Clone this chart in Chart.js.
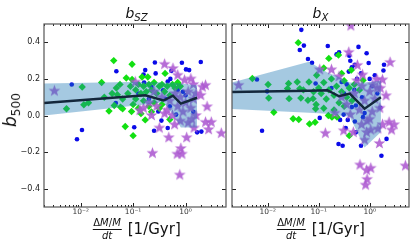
<!DOCTYPE html>
<html>
<head>
<meta charset="utf-8">
<script src="https://cdn.jsdelivr.net/npm/chart.js@4/dist/chart.umd.min.js"></script>
<style>
  body { margin: 0; width: 415px; height: 252px; background: #fff; position: relative; overflow: hidden; font-family: 'DejaVu Sans', sans-serif; color: #111; }
  canvas { position: absolute; top: 0; }
  .lbl { position: absolute; white-space: nowrap; line-height: 1; }
  .ttl { top: 6px; font-size: 14px; transform: translateX(-50%); }
  .ttl sub, .ylab sub { font-size: 72%; vertical-align: -0.3em; }
  .ylab { left: 12px; top: 110px; font-size: 17px; transform: translate(-50%, -50%) rotate(-90deg); }
  .xlab { top: 218px; font-size: 15px; transform: translateX(-50%); display: flex; align-items: center; }
  .frac { display: inline-flex; flex-direction: column; align-items: center; font-size: 10px; margin-right: 6px; }
  .frac .num { border-bottom: 1px solid #111; padding: 0 1px 1px; }
  .frac .den { padding-top: 1px; }
</style>
</head>
<body>
<canvas id="szChart" width="232" height="252" style="left:0"></canvas>
<canvas id="xChart" width="189" height="252" style="left:226px"></canvas>

<div class="lbl ttl" style="left:136.5px"><i>b</i><sub><i>SZ</i></sub></div>
<div class="lbl ttl" style="left:320.5px"><i>b</i><sub><i>X</i></sub></div>
<div class="lbl ylab"><i>b</i><sub>500</sub></div>
<div class="lbl xlab" style="left:136.5px"><span class="frac"><span class="num">Δ<i>M</i>/<i>M</i></span><span class="den"><i>dt</i></span></span>[1/Gyr]</div>
<div class="lbl xlab" style="left:320.5px"><span class="frac"><span class="num">Δ<i>M</i>/<i>M</i></span><span class="den"><i>dt</i></span></span>[1/Gyr]</div>

<script>
// axis ticks
const xMajor = [0.01, 0.1, 1];
const xTickLabels = ['10⁻²', '10⁻¹', '10⁰'];
const yTicks = [-0.4, -0.2, 0.0, 0.2, 0.4];

// b_SZ panel
const szBlueX = [0.00676, 0.0106, 0.00851, 0.0479, 0.0468, 0.105, 0.26, 0.17, 0.158, 0.269, 0.851, 1.02, 1.17, 1.95, 0.347, 0.457, 0.251, 1.66, 2.0, 0.457, 0.372, 0.162, 0.224, 0.537, 0.513, 0.759, 0.661, 0.302, 0.2, 0.417, 0.708, 1, 1.41, 0.501, 0.891, 0.126];
const szBlueY = [0.169, -0.079, -0.13, 0.242, 0.068, -0.064, 0.29, 0.248, 0.224, 0.23, 0.288, 0.252, 0.248, 0.292, -0.028, -0.068, -0.083, -0.092, -0.088, 0.186, 0.138, 0.18, 0.156, 0.244, 0.20, 0.165, 0.005, 0.022, 0.09, 0.09, 0.14, 0.11, 0.02, 0.05, 0.13, 0.12];

const szGreenX = [0.0427, 0.0955, 0.0251, 0.0107, 0.00537, 0.0115, 0.0141, 0.0282, 0.0347, 0.0479, 0.0501, 0.0437, 0.0575, 0.0708, 0.1, 0.0955, 0.17, 0.501, 0.407, 0.0741, 0.148, 0.191, 0.0933, 0.0631, 0.0794,
  0.0891, 0.112, 0.126, 0.141, 0.158, 0.178, 0.2, 0.224, 0.251, 0.282, 0.316, 0.355, 0.398, 0.447, 0.501, 0.562, 0.631, 0.794, 0.0631, 0.1, 0.126, 0.158, 0.2, 0.251, 0.316, 0.112, 0.141, 0.224, 0.355, 0.708, 0.0398, 0.0562];
const szGreenY = [0.30, 0.28, 0.18, 0.156, 0.037, 0.059, 0.07, 0.10, 0.024, 0.15, 0.114, 0.055, 0.046, -0.06, -0.11, 0.197, -0.024, -0.022, 0.23, 0.205, 0.21, 0.21, 0.022, 0.037, 0.12,
  0.16, 0.14, 0.17, 0.12, 0.16, 0.13, 0.17, 0.14, 0.18, 0.12, 0.16, 0.17, 0.13, 0.16, 0.11, 0.17, 0.15, 0.16, 0.09, 0.06, 0.04, 0.08, 0.05, 0.07, 0.04, 0.09, 0.01, 0.02, 0.06, 0.18, 0.12, 0.17];

const szPurpleX = [0.00316, 0.234, 0.479, 1.05, 0.813, 0.692, 0.851, 0.776, 0.316, 1.45, 2.4, 3.09, 2.75, 4.79, 2.57, 0.224, 0.135, 0.617, 0.398, 0.575, 0.955, 1.26, 1.41, 2.09, 2.4, 1.95, 0.708, 0.11,
  0.2, 0.282, 0.355, 0.447, 0.501, 0.631, 0.708, 0.794, 0.891, 1, 1.12, 1.26, 1.41, 1.58, 0.794, 1.12, 1.58, 0.562, 1.32, 0.398, 0.158, 0.251];
const szPurpleY = [0.134, -0.206, -0.121, -0.121, -0.18, -0.211, -0.211, -0.325, -0.068, -0.068, -0.037, -0.037, -0.077, -0.097, 0.048, 0.0, 0.028, -0.05, 0.28, 0.257, 0.193, 0.20, 0.17, 0.156, 0.165, 0.11, 0.22, 0.183,
  0.07, 0.05, 0.10, 0.03, 0.08, 0.12, 0.05, 0.10, 0.02, 0.07, 0.13, 0.04, 0.09, 0.12, -0.03, -0.04, 0.00, 0.00, -0.02, 0.01, 0.04, 0.13];

const szLineX = [0.002, 0.17, 0.38, 0.575, 0.813, 1.66];
const szMedian = [0.068, 0.11, 0.082, 0.108, 0.065, 0.097];
const szUpper = [0.175, 0.185, 0.18, 0.18, 0.175, 0.165];
const szLower = [0.0, 0.06, 0.072, 0.005, -0.065, -0.065];

// b_X panel
const xBlueX = [0.0457, 0.0513, 0.0427, 0.0741, 0.0617, 0.00617, 0.00977, 0.00776, 0.151, 0.251, 0.224, 0.417, 0.447, 0.603, 0.871, 0.398, 0.955, 0.676, 1.86, 1.91, 0.513, 0.389, 0.245, 0.295, 0.339, 0.537, 0.676, 1.70, 2.14, 1.62, 0.263, 0.537, 0.741, 0.0871, 0.282, 0.562, 0.105, 0.309, 0.372, 0.513, 0.794, 0.447, 0.178, 0.316, 0.501, 0.708, 1.12, 1.26, 0.355, 1.41, 1];
const xBlueY = [0.468, 0.382, 0.358, 0.288, 0.309, 0.197, 0.132, -0.083, 0.38, 0.345, 0.334, 0.299, 0.263, 0.375, 0.34, 0.327, 0.287, 0.23, 0.246, 0.277, 0.277, 0.24, -0.156, -0.165, -0.068, -0.092, -0.165, -0.22, -0.128, 0.042, -0.024, 0.055, -0.009, 0.175, 0.183, 0.20, -0.013, 0.005, -0.024, -0.033, 0.013, 0.046, 0.15, 0.12, 0.14, 0.10, 0.16, 0.22, 0.17, 0.12, 0.20];

const xGreenX = [0.0398, 0.00501, 0.0102, 0.0105, 0.0132, 0.0257, 0.0245, 0.0263, 0.038, 0.0427, 0.0447, 0.0316, 0.0407, 0.0661, 0.0851, 0.158, 0.245, 0.126, 0.0646, 0.0912, 0.0617, 0.0776, 0.0871, 0.155, 0.182, 0.229, 0.398, 0.282, 0.437, 0.741,
  0.1, 0.112, 0.126, 0.141, 0.158, 0.178, 0.2, 0.224, 0.251, 0.282, 0.316, 0.355, 0.398, 0.447, 0.501, 0.0794, 0.0891, 0.126, 0.2, 0.316, 0.631, 0.0501];
const xGreenY = [0.398, 0.202, 0.169, 0.095, 0.018, 0.175, 0.147, 0.092, 0.183, 0.147, 0.095, -0.018, -0.022, -0.046, -0.037, 0.312, 0.33, 0.26, 0.183, 0.22, 0.083, 0.092, 0.037, 0.0, -0.009, -0.009, -0.11, 0.23, 0.248, 0.193,
  0.15, 0.12, 0.18, 0.09, 0.14, 0.20, 0.11, 0.16, 0.07, 0.13, 0.19, 0.10, 0.15, 0.08, 0.17, 0.13, 0.06, 0.04, 0.03, 0.05, 0.14, 0.14];

const xPurpleX = [0.00269, 0.427, 0.389, 0.178, 0.105, 0.575, 0.724, 1.38, 1.78, 2.51, 1.62, 2.09, 1.15, 0.251, 0.135, 0.209, 0.417, 0.692, 0.871, 1.05, 1.45, 1.78, 2.4, 3.02, 2.69, 1.55, 0.646, 0.871, 1.05, 0.891, 0.832, 5.01, 0.309, 0.479, 0.794,
  0.282, 0.355, 0.501, 0.631, 0.794, 1, 1.12, 1.26, 1.41, 0.562, 0.708, 1.58, 0.891, 1];
const xPurpleY = [0.165, 0.49, 0.345, 0.25, 0.25, 0.274, 0.222, 0.198, 0.195, 0.29, 0.149, 0.108, 0.167, 0.213, -0.097, 0.013, 0.005, -0.05, -0.092, -0.079, -0.073, -0.05, -0.037, -0.05, -0.079, -0.153, -0.27, -0.299, -0.288, -0.349, -0.38, -0.275, -0.083, -0.092, -0.134,
  0.10, 0.06, 0.12, 0.03, 0.08, 0.13, 0.02, 0.09, 0.15, 0.19, 0.16, 0.04, -0.03, -0.02];

const xLineX = [0.002, 0.0646, 0.148, 0.251, 0.407, 0.794, 1.66];
const xMedian = [0.128, 0.135, 0.138, 0.105, 0.12, 0.037, 0.10];
const xUpper = [0.18, 0.294, 0.235, 0.21, 0.18, 0.18, 0.19];
const xLower = [0.035, 0.015, 0.009, 0.0, -0.005, -0.175, -0.09];

const pts = (xs, ys) => xs.map((x, i) => ({ x, y: ys[i] }));

// filled five point star for the purple markers
function makeStar(r, color) {
    const c = document.createElement('canvas');
    const s = Math.ceil(r * 2) + 2;
    c.width = c.height = s;
    const g = c.getContext('2d');
    g.beginPath();
    for (let i = 0; i < 10; i++) {
        const rr = i % 2 ? r * 0.42 : r;
        const a = -Math.PI / 2 + i * Math.PI / 5;
        g.lineTo(s / 2 + rr * Math.cos(a), s / 2 + rr * Math.sin(a));
    }
    g.closePath();
    g.fillStyle = color;
    g.fill();
    return c;
}
const starImg = makeStar(6.2, 'rgba(172, 88, 208, 0.88)');

// frame with inward ticks on all four sides
const frameTicks = {
    id: 'frameTicks',
    afterDraw(chart) {
        const { ctx, chartArea: a, scales: { x, y } } = chart;
        const seg = (x1, y1, x2, y2) => { ctx.beginPath(); ctx.moveTo(x1, y1); ctx.lineTo(x2, y2); ctx.stroke(); };
        ctx.save();
        ctx.strokeStyle = '#222';
        ctx.lineWidth = 1;
        yTicks.forEach(v => {
            const py = Math.round(y.getPixelForValue(v)) + 0.5;
            seg(a.left, py, a.left + 4, py);
            seg(a.right - 4, py, a.right, py);
        });
        for (let e = -3; e <= 0; e++) {
            for (let m = 1; m <= 9; m++) {
                const v = m * Math.pow(10, e);
                if (v < x.min || v > x.max) continue;
                const px = Math.round(x.getPixelForValue(v)) + 0.5;
                const len = m === 1 ? 4 : 2;
                seg(px, a.bottom, px, a.bottom - len);
                seg(px, a.top, px, a.top + len);
            }
        }
        ctx.strokeStyle = '#555';
        ctx.lineWidth = 1.2;
        ctx.strokeRect(a.left, a.top, a.right - a.left, a.bottom - a.top);
        ctx.restore();
    }
};

function createPanel(id, d, showY) {
    const ctx = document.getElementById(id).getContext('2d');
    return new Chart(ctx, {
        type: 'scatter',
        data: {
            datasets: [
                { type: 'line', data: pts(d.lineX, d.median), borderColor: '#13273b', borderWidth: 2.5, pointRadius: 0, tension: 0, fill: false },
                { type: 'line', data: pts(d.lineX, d.upper), borderWidth: 0, pointRadius: 0, tension: 0, fill: '+1', backgroundColor: 'rgba(31, 119, 180, 0.4)' },
                { type: 'line', data: pts(d.lineX, d.lower), borderWidth: 0, pointRadius: 0, tension: 0, fill: false },
                { data: pts(d.purpleX, d.purpleY), pointStyle: starImg, pointRadius: 5 },
                { data: pts(d.greenX, d.greenY), pointStyle: 'rectRot', pointRadius: 3.7, backgroundColor: '#12e012', borderWidth: 0 },
                { data: pts(d.blueX, d.blueY), pointStyle: 'circle', pointRadius: 2.3, backgroundColor: '#0a0ae8', borderWidth: 0 }
            ]
        },
        options: {
            responsive: false,
            animation: false,
            layout: { padding: showY ? { top: 24, right: 3, left: 0, bottom: 0 } : { top: 24, right: 3, left: 3, bottom: 0 } },
            plugins: { legend: { display: false }, tooltip: { enabled: false } },
            scales: {
                x: {
                    type: 'logarithmic',
                    min: 0.002,
                    max: 5.9,
                    grid: { display: false, drawTicks: false },
                    border: { display: false },
                    afterBuildTicks: s => { s.ticks = xMajor.map(v => ({ value: v, major: true })); },
                    afterFit: s => { s.height = 45; },
                    ticks: {
                        autoSkip: false,
                        maxRotation: 0,
                        padding: 1,
                        color: '#333',
                        font: { family: 'DejaVu Sans', size: 7.5 },
                        callback: (v, i) => xTickLabels[i]
                    }
                },
                y: {
                    display: showY,
                    min: -0.5,
                    max: 0.5,
                    grid: { display: false, drawTicks: false },
                    border: { display: false },
                    afterBuildTicks: s => { s.ticks = yTicks.map(v => ({ value: v })); },
                    afterFit: s => { s.width = showY ? 44 : 0; },
                    ticks: {
                        padding: 4,
                        color: '#222',
                        font: { family: 'DejaVu Sans', size: 8 },
                        callback: v => v.toFixed(1).replace('-', '−')
                    }
                }
            }
        },
        plugins: [frameTicks]
    });
}

document.addEventListener('DOMContentLoaded', () => {
    createPanel('szChart', {
        blueX: szBlueX, blueY: szBlueY, greenX: szGreenX, greenY: szGreenY, purpleX: szPurpleX, purpleY: szPurpleY,
        lineX: szLineX, median: szMedian, upper: szUpper, lower: szLower
    }, true);
    createPanel('xChart', {
        blueX: xBlueX, blueY: xBlueY, greenX: xGreenX, greenY: xGreenY, purpleX: xPurpleX, purpleY: xPurpleY,
        lineX: xLineX, median: xMedian, upper: xUpper, lower: xLower
    }, false);
});
</script>
</body>
</html>
